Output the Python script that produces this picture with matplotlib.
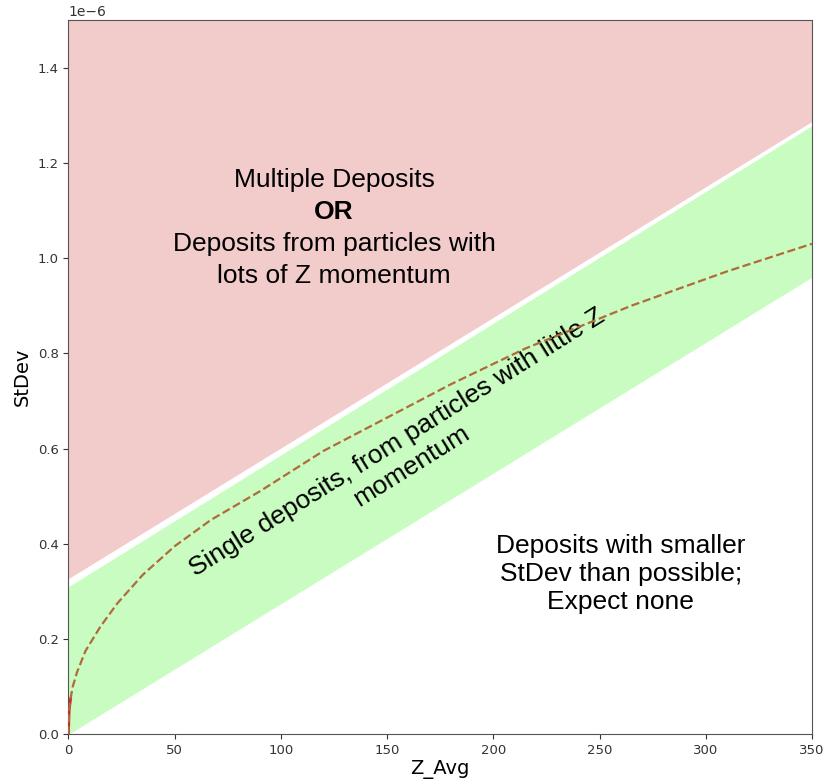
import numpy as np
import matplotlib.pyplot as plt

# band edges (straight lines over the Z range)
z_edges = [0, 350]
band_low = [0.0e-6, 0.96e-6]
band_high = [0.31e-6, 1.278e-6]
multi_low = [0.327e-6, 1.287e-6]
y_top = 1.5e-6

# expected StDev vs Z_Avg
z_curve = [0, 0.3, 1, 2, 4, 8, 15, 23, 35, 50, 67, 90, 120, 150, 180, 215,
           265, 310, 350]
sd_curve = [0, 0.05, 0.075, 0.10, 0.13, 0.175, 0.226, 0.275, 0.335, 0.395,
            0.45, 0.51, 0.595, 0.665, 0.735, 0.81, 0.90, 0.972, 1.03]
sd_curve = [v * 1e-6 for v in sd_curve]

# region labels: (x, baseline y, text, weight)
upper_lines = [
    (125, 1.150e-6, "Multiple Deposits", "normal"),
    (125, 1.082e-6, "OR", "bold"),
    (125, 1.015e-6, "Deposits from particles with", "normal"),
    (125, 0.947e-6, "lots of Z momentum", "normal"),
]

fig = plt.figure(figsize=(8.23, 7.83), dpi=100)
ax = fig.add_axes([0.0832, 0.0622, 0.9034, 0.9123])

ax.fill_between(z_edges, multi_low, [y_top, y_top], color="#f2cbcb", lw=0)
ax.fill_between(z_edges, band_low, band_high, color="#c8fcc0", lw=0)

ax.plot(z_curve[:3], sd_curve[:3], color="#d0202a", lw=2, zorder=3)
ax.plot(z_curve, sd_curve, color="#b06a3b", lw=1.6, ls="--", zorder=4)

fam = ["Liberation Sans", "DejaVu Sans"]
for x, y, s, w in upper_lines:
    ax.text(x, y, s, family=fam, fontsize=19, fontweight=w,
            ha="center", va="baseline")
ax.text(158, 0.588e-6, "Single deposits, from particles with little Z\nmomentum",
        family=fam, fontsize=19, ha="center", va="center", linespacing=1.15,
        rotation=32, rotation_mode="anchor")
ax.text(260, 0.336e-6, "Deposits with smaller\nStDev than possible;\nExpect none",
        family=fam, fontsize=19, ha="center", va="center", linespacing=1.2)

ax.set_xlim(0, 350)
ax.set_ylim(0, y_top)
ax.set_xlabel("Z_Avg", fontsize=14, labelpad=2)
ax.set_ylabel("StDev", fontsize=14)
ax.tick_params(labelsize=9.5, colors="#333333")
for s in ax.spines.values():
    s.set_color("#555555")

fig.savefig("out.png", dpi=100)
plt.close(fig)
